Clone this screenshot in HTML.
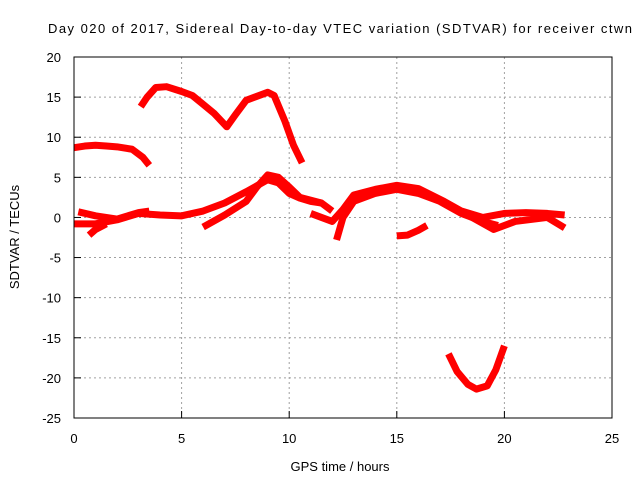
<!DOCTYPE html>
<html><head><meta charset="utf-8"><style>
body{margin:0;background:#fff}
svg{display:block;font-family:"Liberation Sans",sans-serif}
</style></head><body>
<svg id="chart" width="640" height="480" xmlns="http://www.w3.org/2000/svg">
<rect width="640" height="480" fill="#fff"/>
<text x="340" y="33" text-anchor="middle" font-size="13" textLength="584">Day 020 of 2017, Sidereal Day-to-day VTEC variation (SDTVAR) for receiver ctwn</text>
<g id="grid"></g>
<g id="ticks"></g>
<g id="series"></g>
<rect x="74" y="57" width="538" height="361" fill="none" stroke="#000" stroke-width="1"/>
<text x="340" y="471" text-anchor="middle" font-size="13">GPS time / hours</text>
<text transform="translate(19,237) rotate(-90)" text-anchor="middle" font-size="13">SDTVAR / TECUs</text>
</svg>
<script>
const xTicks=[0,5,10,15,20,25];
const yTicks=[20,15,10,5,0,-5,-10,-15,-20,-25];
const seriesA=[[0,8.7],[0.5,8.9],[1,9.0],[1.5,8.9],[2,8.8],[2.7,8.5],[3.2,7.5],[3.5,6.5]];
const seriesB=[[3.1,13.8],[3.4,15],[3.8,16.2],[4.3,16.3],[5,15.7],[5.5,15.2],[6,14.1],[6.5,13],[7.1,11.3],[7.5,12.8],[8,14.6],[8.5,15.1],[9,15.6],[9.3,15.2],[9.8,12],[10.2,9],[10.6,6.8]];
const seriesC=[[0,-0.8],[1,-0.8],[2,-0.3],[3,0.5],[4,0.3],[5,0.2],[6,0.8],[7,1.8],[8,3.2],[9,4.7],[9.5,4.3],[10,3],[10.5,2.4],[11,2],[11.5,1.8],[12,0.8]];
const seriesD=[[0.2,0.7],[1,0.2],[2,-0.2],[3,0.6],[3.5,0.8]];
const seriesE=[[6,-1.2],[7,0.3],[8,2],[8.5,3.8],[9,5.3],[9.5,5],[10,3.8],[10.5,2.5],[11.5,1.8]];
const seriesF=[[0.7,-2.2],[1,-1.5],[1.5,-0.8]];
const seriesG=[[12.2,-2.8],[12.5,0],[13,2],[14,3],[15,3.5],[16,3],[17,2],[18,0.5],[19,-0.5],[19.7,-1]];
const seriesH=[[11,0.5],[12,-0.5],[12.5,1],[13,2.8],[14,3.5],[15,4],[16,3.6],[17.2,2],[18,0.8],[19,0],[20,0.5],[21,0.6],[22,0.5],[22.8,0.3]];
const seriesI=[[15,-2.3],[15.5,-2.2],[16,-1.6],[16.4,-1]];
const seriesJ=[[17.4,-17],[17.8,-19.2],[18.3,-20.8],[18.7,-21.4],[19.2,-21],[19.6,-19],[20,-16]];
const seriesK=[[17.5,1.5],[18.5,0],[19.5,-1.5],[20.5,-0.5],[22,0],[22.8,-1.3]];
const allSeries=[seriesA,seriesB,seriesC,seriesD,seriesE,seriesF,seriesG,seriesH,seriesI,seriesJ,seriesK];
const X=v=>74+v*(538/25);
const Y=v=>57+(20-v)*(361/45);
const NS='http://www.w3.org/2000/svg';
function mk(t,a,p){const e=document.createElementNS(NS,t);for(const k in a)e.setAttribute(k,a[k]);p.appendChild(e);return e;}
const grid=document.getElementById('grid'),ticks=document.getElementById('ticks'),ser=document.getElementById('series');
xTicks.forEach(t=>{
  if(t>0&&t<25){const g=mk('line',{x1:X(t),x2:X(t),y1:57,y2:418,stroke:'#a0a0a0','stroke-dasharray':'2,3'},grid);
  
  }
  const l=mk('line',{x1:X(t),x2:X(t),y1:418,y2:411,stroke:'#000'},ticks);
  
  
  const tx=mk('text',{x:X(t),y:443,'text-anchor':'middle','font-size':'13'},ticks);tx.textContent=t;
  
  
});
yTicks.forEach(t=>{
  if(t<20&&t>-25){const g=mk('line',{x1:74,x2:612,y1:Y(t),y2:Y(t),stroke:'#a0a0a0','stroke-dasharray':'2,3'},grid);
  
  }
  const l=mk('line',{x1:74,x2:81,y1:Y(t),y2:Y(t),stroke:'#000'},ticks);
  
  
  const tx=mk('text',{x:61,y:Y(t)+5,'text-anchor':'end','font-size':'13'},ticks);tx.textContent=t;
  
  
});
allSeries.forEach(s=>{
  const p=mk('polyline',{points:s.map(d=>X(d[0])+','+Y(d[1])).join(' '),fill:'none',stroke:'#f00','stroke-width':'7','stroke-linejoin':'round'},ser);
  
  
});
</script>
</body></html>
